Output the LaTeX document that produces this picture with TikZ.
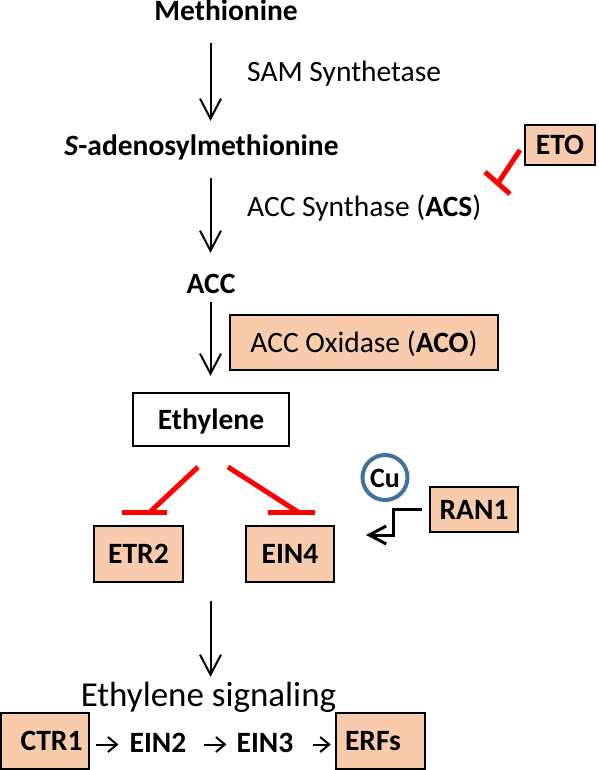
\documentclass[tikz,border=0pt]{standalone}
\usepackage{fontspec}
\setmainfont{Carlito}
\usetikzlibrary{arrows.meta}
\definecolor{peach}{HTML}{F8CBAD}
\definecolor{cublue}{HTML}{41719C}
\definecolor{inhred}{HTML}{FF0000}
\begin{document}
\begin{tikzpicture}[x=1pt,y=-1pt,
  lbl/.style={inner sep=0pt, text height=21pt, text depth=6pt, font=\fontsize{29.5}{34}\selectfont},
  blbl/.style={lbl, font=\fontsize{29.5}{34}\selectfont\bfseries},
  pbox/.style={draw, line width=2.5pt, fill=peach, inner sep=0pt, text height=19pt, text depth=0pt, font=\fontsize{29.5}{34}\selectfont\bfseries},
  wbox/.style={pbox, fill=white},
  arr/.style={line width=2pt, -{Straight Barb[length=20pt,width=21pt]}},
  sarr/.style={line width=2pt, -{Straight Barb[length=9pt,width=15pt]}},
  inh/.style={draw=inhred, line width=5pt},
]
\useasboundingbox (0,0) rectangle (598,770);
\coordinate (col) at (210.5,0);

% metabolites
\node[blbl, anchor=base] (meth) at (226,21) {Methionine};
\node[lbl, anchor=base west] (samsyn) at (247,82) {SAM Synthetase};
\node[blbl, anchor=base] (sam) at (201.5,156) {\textit{S}-adenosylmethionine};
\node[lbl, anchor=base west] (acs) at (247,216.5) {ACC Synthase (\textbf{ACS})};
\node[blbl, anchor=base] (acc) at (211,293) {ACC};
\node[pbox, font=\fontsize{29.5}{34}\selectfont, minimum width=268pt, minimum height=55pt] (aco) at (364,342.5) {ACC Oxidase (\textbf{ACO})};
\node[wbox, minimum width=156pt, minimum height=53pt] (eth) at (211,419.5) {Ethylene};

% ETO
\node[pbox, minimum width=70pt, minimum height=40pt] (eto) at (560,145) {ETO};

% receptors
\node[pbox, minimum width=89pt, minimum height=56pt] (etr2) at (138.5,554) {ETR2};
\node[pbox, minimum width=88pt, minimum height=56pt] (ein4) at (290,554) {EIN4};
\node[draw=cublue, line width=4pt, circle, minimum size=45pt, inner sep=0pt, text height=19pt, text depth=0pt, font=\fontsize{28}{34}\selectfont\bfseries] (cu) at (385,477.5) {Cu};
\node[pbox, minimum width=88pt, minimum height=45pt] (ran1) at (474,509.5) {RAN1};

% signaling
\node[lbl, anchor=base, text height=25pt, font=\fontsize{35}{40}\selectfont] (sig) at (208.5,706) {Ethylene signaling};
\node[pbox, minimum width=88pt, minimum height=56pt, text width=75pt, align=right] (ctr1) at (45,741) {CTR1};
\node[blbl, anchor=base] (ein2) at (158,752) {EIN2};
\node[blbl, anchor=base] (ein3) at (265,752) {EIN3};
\node[pbox, minimum width=89pt, minimum height=56pt, text width=71pt, align=left] (erfs) at (380.5,741) {ERFs};

% main arrows
\draw[arr, shorten <=16pt, shorten >=14pt] (col |- meth.south) -- (col |- sam.north);
\draw[arr, shorten <=16pt, shorten >=19pt] (col |- sam.south) -- (col |- acc.north);
\draw[arr, shorten <=3pt, shorten >=16pt] (col |- acc.south) -- (col |- eth.north);
\draw[arr, shorten <=18pt, shorten >=4pt] (col |- etr2.south) -- (col |- sig.north);

% bottom row arrows
\draw[sarr, shorten <=6pt, shorten >=11pt] (ctr1.east |- ein2.west) -- (ein2.west);
\draw[sarr, shorten <=17pt, shorten >=10pt] (ein2.east) -- (ein3.west);
\draw[sarr, shorten <=19pt, shorten >=4pt] (ein3.east) -- (erfs.west |- ein3.east);

% inhibitions
\coordinate (r1a) at (198,467);
\coordinate (r1b) at (150,512);
\coordinate (r1l) at (122,512);
\coordinate (r1r) at (167,512);
\coordinate (r2a) at (228,467);
\coordinate (r2b) at (298,512);
\coordinate (r2l) at (268,512);
\coordinate (r2r) at (315,512);
\draw[inh] (r1a) -- (r1b);
\draw[inh] (r1l) -- (r1r);
\draw[inh] (r2a) -- (r2b);
\draw[inh] (r2l) -- (r2r);

\coordinate (e1) at (520,150);
\coordinate (e2) at (498,183);
\coordinate (e2l) at (485,172);
\coordinate (e2r) at (510,194);
\draw[inh] (e1) -- (e2);
\draw[inh] (e2l) -- (e2r);

% RAN1 step arrow
\coordinate (rantip) at (366,535);
\draw[line width=3pt, -{Straight Barb[length=17pt,width=18pt]}, shorten <=7pt] (ran1.west) -- ++(-35,0) |- (rantip);
\end{tikzpicture}
\end{document}
